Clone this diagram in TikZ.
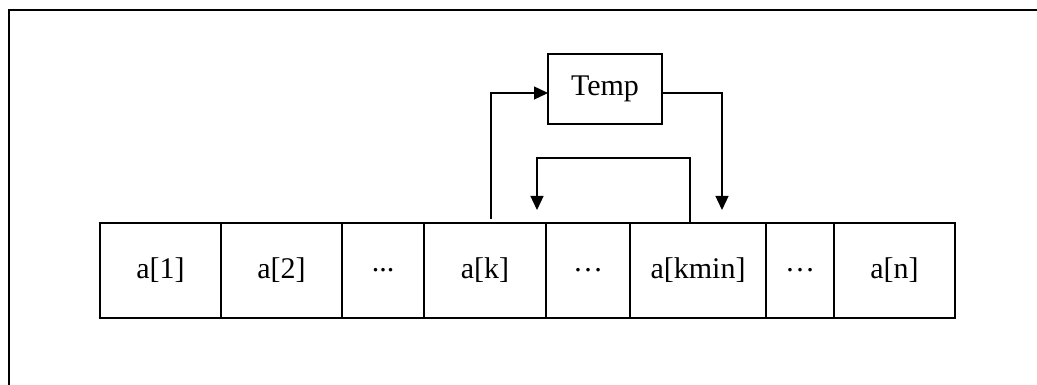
\documentclass[tikz,border=0pt]{standalone}
\usepackage{fontspec}
\setmainfont{Liberation Serif}
\usetikzlibrary{positioning, arrows.meta}

\begin{document}
\begin{tikzpicture}[x=1pt, y=1pt,
                  cell/.style={draw, line width=2pt, inner sep=0pt, outer sep=0pt,
                               minimum height=95pt, font=\fontsize{30}{36}\selectfont},
                  tmpbox/.style={draw, line width=1.5pt, inner sep=0pt, outer sep=0pt,
                                 minimum width=114pt, minimum height=70pt,
                                 font=\fontsize{30}{36}\selectfont},
                  arr/.style={-{Triangle[length=14pt, width=13pt]}, line width=1.3pt},
                  node distance=0pt,
            ]
            \useasboundingbox (0,0) rectangle (1037,-385);
            % frame: top and left edges only
            \draw[line width=2pt] (9,-385) -- (9,-10) -- (1037,-10);

            % the array a[1..n]
            \node[cell, minimum width=121pt] (a1) at (160.5,-270.5) {a[1]};
            \node[cell, minimum width=121pt, right=of a1] (a2) {a[2]};
            \node[cell, minimum width=82pt, right=of a2] (dots1) {...};
            \node[cell, minimum width=122pt, right=of dots1] (ak) {a[k]};
            \node[cell, minimum width=84pt, right=of ak] (dots2) {…};
            \node[cell, minimum width=136pt, right=of dots2] (akmin) {a[kmin]};
            \node[cell, minimum width=68pt, right=of akmin] (dots3) {…};
            \node[cell, minimum width=121pt, right=of dots3] (an) {a[n]};

            \node[tmpbox] (tmp) at (605,-89) {Temp};

            % swap through Temp
            \draw[arr] ([xshift=6pt, yshift=4pt]ak.north) |- ([yshift=-4pt]tmp.west);
            \draw[arr] ([yshift=-4pt]tmp.east) -| ([xshift=24pt, yshift=13pt]akmin.north);
            \draw[arr] ([xshift=-8pt]akmin.north) -- ++(0,65pt) -| ([xshift=52pt, yshift=13pt]ak.north);

      \end{tikzpicture}
\end{document}
